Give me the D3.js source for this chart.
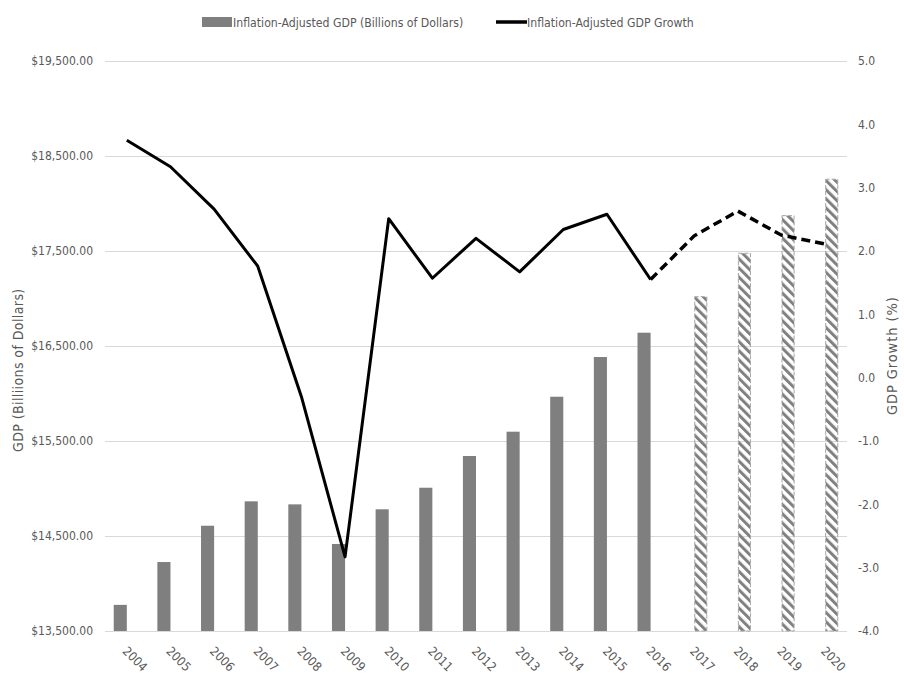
<!DOCTYPE html>
<meta charset="utf-8">
<script src="https://d3js.org/d3.v7.min.js"></script>
<style>
  body { margin: 0; background: #fff; }
  text { font-family: "DejaVu Sans Condensed", "Liberation Sans Narrow", Arial, sans-serif; fill: #595959; }
</style>
<div id="chart"></div>
<script>
// values
var years = ["2004","2005","2006","2007","2008","2009","2010","2011","2012","2013","2014","2015","2016","2017","2018","2019","2020"];
var gdpActual = [13775, 14226, 14608, 14865, 14833, 14416, 14781, 15008, 15342, 15598, 15966, 16384, 16640, null, null, null, null];
var gdpProjected = [null, null, null, null, null, null, null, null, null, null, null, null, null, 17019, 17476, 17872, 18255];
var growth = [3.75, 3.33, 2.66, 1.76, -0.30, -2.83, 2.51, 1.57, 2.20, 1.67, 2.34, 2.58, 1.55, 2.24, 2.63, 2.25, 2.11];
var lastActual = 12; // 2016, line turns dashed after this
var leftTicks = [13500, 14500, 15500, 16500, 17500, 18500, 19500];
var rightTicks = [-4, -3, -2, -1, 0, 1, 2, 3, 4, 5];

var W = 904, H = 679;
var plot = { left: 105, right: 847, top: 61, bottom: 631 };
var font = "'DejaVu Sans Condensed', 'Liberation Sans Narrow', Arial, sans-serif";

var svg = d3.select("#chart").append("svg")
    .attr("width", W)
    .attr("height", H);

// hatch pattern for the projected bars
var defs = svg.append("defs");
defs.append("pattern")
    .attr("id", "hatch")
    .attr("patternUnits", "userSpaceOnUse")
    .attr("width", 6.5).attr("height", 6.5)
    .attr("patternTransform", "rotate(-45)")
  .append("rect")
    .attr("x", 0).attr("y", 0)
    .attr("width", 3).attr("height", 6.5)
    .attr("fill", "#808080");

var x0 = d3.scaleBand()
    .domain(years)
    .range([plot.left, plot.right])
    .paddingInner(0.4)
    .paddingOuter(0.2);

var x1 = d3.scaleBand()
    .domain(["actual", "projected"])
    .range([0, x0.bandwidth()]);

var yL = d3.scaleLinear().domain([13500, 19500]).range([plot.bottom, plot.top]);
var yR = d3.scaleLinear().domain([-4, 5]).range([plot.bottom, plot.top]);

// gridlines + left axis
var gL = svg.append("g")
    .attr("transform", "translate(" + plot.left + ",0)")
    .call(d3.axisLeft(yL)
        .tickValues(leftTicks)
        .tickSize(-(plot.right - plot.left))
        .tickPadding(12)
        .tickFormat(function (d) { return "$" + d3.format(",.2f")(d); }));
gL.select(".domain").remove();
gL.selectAll("line").attr("stroke", "#d9d9d9").attr("stroke-width", 1);
gL.selectAll("text").attr("font-size", 12).attr("fill", "#595959").style("font-family", font);

// right axis (labels only)
var gR = svg.append("g")
    .attr("transform", "translate(" + plot.right + ",0)")
    .call(d3.axisRight(yR)
        .tickValues(rightTicks)
        .tickSize(0)
        .tickPadding(11)
        .tickFormat(function (d) { return d.toFixed(1); }));
gR.select(".domain").remove();
gR.selectAll("text").attr("font-size", 12).attr("fill", "#595959").style("font-family", font);

// bars
svg.append("g").selectAll("rect")
    .data(years.map(function (y, i) { return { year: y, v: gdpActual[i] }; }).filter(function (d) { return d.v != null; }))
    .join("rect")
    .attr("x", function (d) { return x0(d.year) + x1("actual"); })
    .attr("y", function (d) { return yL(d.v); })
    .attr("width", x1.bandwidth())
    .attr("height", function (d) { return yL(13500) - yL(d.v); })
    .attr("fill", "#7f7f7f");

svg.append("g").selectAll("rect")
    .data(years.map(function (y, i) { return { year: y, v: gdpProjected[i] }; }).filter(function (d) { return d.v != null; }))
    .join("rect")
    .attr("x", function (d) { return x0(d.year) + x1("projected") + 0.5; })
    .attr("y", function (d) { return yL(d.v); })
    .attr("width", x1.bandwidth() - 1)
    .attr("height", function (d) { return yL(13500) - yL(d.v); })
    .attr("fill", "url(#hatch)")
    .attr("stroke", "#a6a6a6")
    .attr("stroke-width", 1)
    .attr("stroke-dasharray", "4,2");

// growth line
var cx = function (i) { return x0(years[i]) + x0.bandwidth() / 2; };
var line = d3.line()
    .x(function (d) { return cx(d); })
    .y(function (d) { return yR(growth[d]); });

var idx = d3.range(years.length);
svg.append("path")
    .attr("d", line(idx.filter(function (i) { return i <= lastActual; })))
    .attr("fill", "none")
    .attr("stroke", "#000")
    .attr("stroke-width", 3)
    .attr("stroke-linejoin", "round");

svg.append("path")
    .attr("d", line(idx.filter(function (i) { return i >= lastActual; })))
    .attr("fill", "none")
    .attr("stroke", "#000")
    .attr("stroke-width", 3.5)
    .attr("stroke-dasharray", "9,5");

// x labels, rotated
svg.append("g").selectAll("text")
    .data(years)
    .join("text")
    .attr("transform", function (d) { return "translate(" + (x0(d) + x0.bandwidth() / 2 - 5) + ",652) rotate(45)"; })
    .attr("font-size", 12.5)
    .text(function (d) { return d; });

// axis titles
svg.append("text")
    .attr("transform", "translate(23,452) rotate(-90)")
    .attr("font-size", 14)
    .attr("letter-spacing", 0.4)
    .text("GDP (Billiions of Dollars)");

svg.append("text")
    .attr("transform", "translate(897,415) rotate(-90)")
    .attr("font-size", 14.5)
    .attr("letter-spacing", 0.9)
    .text("GDP Growth (%)");

// legend
var lg = svg.append("g");
lg.append("rect")
    .attr("x", 202).attr("y", 17).attr("width", 30).attr("height", 10)
    .attr("fill", "#7f7f7f");
lg.append("text")
    .attr("x", 233).attr("y", 27)
    .attr("font-size", 12.2)
    .text("Inflation-Adjusted GDP (Billions of Dollars)");
lg.append("line")
    .attr("x1", 496).attr("x2", 527).attr("y1", 22).attr("y2", 22)
    .attr("stroke", "#000").attr("stroke-width", 3.5);
lg.append("text")
    .attr("x", 527).attr("y", 27)
    .attr("font-size", 12.2)
    .text("Inflation-Adjusted GDP Growth");
</script>
